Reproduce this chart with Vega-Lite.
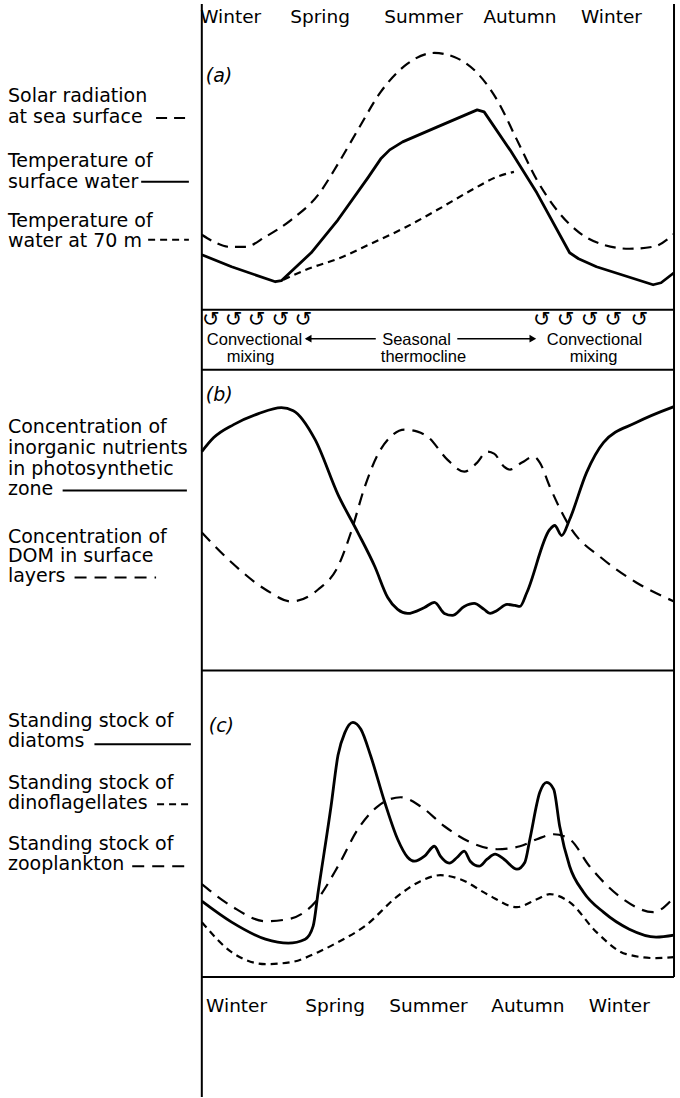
{
  "$schema": "https://vega.github.io/schema/vega-lite/v6.json",
  "width": 680,
  "height": 1098,
  "autosize": {"type": "fit", "contains": "padding"},
  "padding": 0,
  "background": "white",
  "config": {"view": {"stroke": null}},
  "datasets": {
    "curves": [
      {"series":"solar","x":203,"y":235},{"series":"solar","x":215,"y":242},{"series":"solar","x":230,"y":247},{"series":"solar","x":247,"y":247},{"series":"solar","x":267,"y":237},{"series":"solar","x":293,"y":220},{"series":"solar","x":320,"y":195},{"series":"solar","x":340,"y":164},{"series":"solar","x":360,"y":130},{"series":"solar","x":383,"y":92},{"series":"solar","x":407,"y":66},{"series":"solar","x":437,"y":53},{"series":"solar","x":457,"y":57},{"series":"solar","x":480,"y":73},{"series":"solar","x":500,"y":100},{"series":"solar","x":520,"y":140},{"series":"solar","x":540,"y":180},{"series":"solar","x":560,"y":210},{"series":"solar","x":583,"y":233},{"series":"solar","x":607,"y":245},{"series":"solar","x":633,"y":249},{"series":"solar","x":657,"y":247},{"series":"solar","x":678,"y":234},
      {"series":"surftemp","x":203,"y":255},{"series":"surftemp","x":233,"y":267},{"series":"surftemp","x":277,"y":282},{"series":"surftemp","x":283,"y":281},{"series":"surftemp","x":313,"y":253},{"series":"surftemp","x":340,"y":220},{"series":"surftemp","x":370,"y":178},{"series":"surftemp","x":383,"y":159},{"series":"surftemp","x":392,"y":150},{"series":"surftemp","x":405,"y":142},{"series":"surftemp","x":440,"y":127},{"series":"surftemp","x":480,"y":110},{"series":"surftemp","x":487,"y":112},{"series":"surftemp","x":513,"y":150},{"series":"surftemp","x":540,"y":193},{"series":"surftemp","x":573,"y":253},{"series":"surftemp","x":582,"y":259},{"series":"surftemp","x":600,"y":267},{"series":"surftemp","x":657,"y":285},{"series":"surftemp","x":665,"y":283},{"series":"surftemp","x":678,"y":273},
      {"series":"temp70","x":285,"y":280},{"series":"temp70","x":313,"y":268},{"series":"temp70","x":340,"y":259},{"series":"temp70","x":373,"y":244},{"series":"temp70","x":407,"y":228},{"series":"temp70","x":440,"y":210},{"series":"temp70","x":473,"y":191},{"series":"temp70","x":500,"y":177},{"series":"temp70","x":517,"y":172},
      {"series":"nutrients","x":203,"y":452},{"series":"nutrients","x":215,"y":438},{"series":"nutrients","x":235,"y":425},{"series":"nutrients","x":260,"y":414},{"series":"nutrients","x":283,"y":408},{"series":"nutrients","x":295,"y":411},{"series":"nutrients","x":317,"y":440},{"series":"nutrients","x":340,"y":495},{"series":"nutrients","x":360,"y":533},{"series":"nutrients","x":377,"y":567},{"series":"nutrients","x":390,"y":598},{"series":"nutrients","x":400,"y":610},{"series":"nutrients","x":410,"y":614},{"series":"nutrients","x":427,"y":608},{"series":"nutrients","x":437,"y":603},{"series":"nutrients","x":447,"y":614},{"series":"nutrients","x":455,"y":616},{"series":"nutrients","x":467,"y":607},{"series":"nutrients","x":477,"y":604},{"series":"nutrients","x":487,"y":610},{"series":"nutrients","x":493,"y":614},{"series":"nutrients","x":500,"y":611},{"series":"nutrients","x":510,"y":605},{"series":"nutrients","x":518,"y":606},{"series":"nutrients","x":523,"y":607},{"series":"nutrients","x":530,"y":593},{"series":"nutrients","x":553,"y":530},{"series":"nutrients","x":558,"y":526},{"series":"nutrients","x":565,"y":536},{"series":"nutrients","x":573,"y":520},{"series":"nutrients","x":590,"y":473},{"series":"nutrients","x":607,"y":443},{"series":"nutrients","x":640,"y":423},{"series":"nutrients","x":678,"y":407},
      {"series":"dom","x":203,"y":533},{"series":"dom","x":233,"y":563},{"series":"dom","x":267,"y":590},{"series":"dom","x":293,"y":602},{"series":"dom","x":320,"y":590},{"series":"dom","x":340,"y":567},{"series":"dom","x":353,"y":533},{"series":"dom","x":367,"y":487},{"series":"dom","x":380,"y":455},{"series":"dom","x":393,"y":437},{"series":"dom","x":407,"y":430},{"series":"dom","x":420,"y":432},{"series":"dom","x":430,"y":437},{"series":"dom","x":450,"y":460},{"series":"dom","x":467,"y":472},{"series":"dom","x":480,"y":463},{"series":"dom","x":490,"y":452},{"series":"dom","x":497,"y":454},{"series":"dom","x":507,"y":467},{"series":"dom","x":513,"y":470},{"series":"dom","x":525,"y":463},{"series":"dom","x":537,"y":457},{"series":"dom","x":543,"y":463},{"series":"dom","x":553,"y":487},{"series":"dom","x":573,"y":527},{"series":"dom","x":607,"y":560},{"series":"dom","x":640,"y":583},{"series":"dom","x":678,"y":602},
      {"series":"diatoms","x":203,"y":902},{"series":"diatoms","x":233,"y":923},{"series":"diatoms","x":267,"y":940},{"series":"diatoms","x":290,"y":944},{"series":"diatoms","x":307,"y":940},{"series":"diatoms","x":315,"y":927},{"series":"diatoms","x":320,"y":893},{"series":"diatoms","x":333,"y":807},{"series":"diatoms","x":340,"y":756},{"series":"diatoms","x":347,"y":733},{"series":"diatoms","x":355,"y":723},{"series":"diatoms","x":363,"y":730},{"series":"diatoms","x":373,"y":757},{"series":"diatoms","x":387,"y":803},{"series":"diatoms","x":400,"y":840},{"series":"diatoms","x":410,"y":858},{"series":"diatoms","x":417,"y":862},{"series":"diatoms","x":427,"y":857},{"series":"diatoms","x":437,"y":847},{"series":"diatoms","x":443,"y":857},{"series":"diatoms","x":452,"y":864},{"series":"diatoms","x":460,"y":858},{"series":"diatoms","x":467,"y":852},{"series":"diatoms","x":473,"y":862},{"series":"diatoms","x":482,"y":867},{"series":"diatoms","x":490,"y":860},{"series":"diatoms","x":498,"y":855},{"series":"diatoms","x":507,"y":860},{"series":"diatoms","x":520,"y":870},{"series":"diatoms","x":528,"y":863},{"series":"diatoms","x":533,"y":840},{"series":"diatoms","x":543,"y":793},{"series":"diatoms","x":550,"y":783},{"series":"diatoms","x":557,"y":790},{"series":"diatoms","x":563,"y":827},{"series":"diatoms","x":573,"y":867},{"series":"diatoms","x":587,"y":893},{"series":"diatoms","x":607,"y":913},{"series":"diatoms","x":633,"y":930},{"series":"diatoms","x":660,"y":938},{"series":"diatoms","x":678,"y":936},
      {"series":"zoo","x":203,"y":885},{"series":"zoo","x":233,"y":907},{"series":"zoo","x":267,"y":922},{"series":"zoo","x":290,"y":920},{"series":"zoo","x":317,"y":903},{"series":"zoo","x":340,"y":867},{"series":"zoo","x":360,"y":830},{"series":"zoo","x":380,"y":807},{"series":"zoo","x":403,"y":798},{"series":"zoo","x":423,"y":807},{"series":"zoo","x":447,"y":827},{"series":"zoo","x":473,"y":843},{"series":"zoo","x":500,"y":850},{"series":"zoo","x":523,"y":847},{"series":"zoo","x":540,"y":840},{"series":"zoo","x":557,"y":835},{"series":"zoo","x":573,"y":840},{"series":"zoo","x":593,"y":867},{"series":"zoo","x":627,"y":900},{"series":"zoo","x":657,"y":913},{"series":"zoo","x":678,"y":898},
      {"series":"dino","x":203,"y":923},{"series":"dino","x":233,"y":953},{"series":"dino","x":267,"y":965},{"series":"dino","x":293,"y":963},{"series":"dino","x":320,"y":953},{"series":"dino","x":340,"y":943},{"series":"dino","x":367,"y":927},{"series":"dino","x":400,"y":897},{"series":"dino","x":423,"y":882},{"series":"dino","x":443,"y":876},{"series":"dino","x":463,"y":880},{"series":"dino","x":490,"y":895},{"series":"dino","x":520,"y":908},{"series":"dino","x":540,"y":900},{"series":"dino","x":553,"y":895},{"series":"dino","x":573,"y":903},{"series":"dino","x":600,"y":933},{"series":"dino","x":630,"y":955},{"series":"dino","x":660,"y":959},{"series":"dino","x":678,"y":958}
    ]
  },
  "encoding": {
    "x": {"field": "x", "type": "quantitative", "scale": {"domain": [0, 680], "nice": false, "zero": false}, "axis": null},
    "y": {"field": "y", "type": "quantitative", "scale": {"domain": [0, 1098], "nice": false, "zero": false, "reverse": true}, "axis": null}
  },
  "layer": [
    {
      "data": {"values": [
        {"x":203,"x2":203,"y":4,"y2":1098},
        {"x":678,"x2":678,"y":4,"y2":978},
        {"x":203,"x2":678,"y":310,"y2":310},
        {"x":203,"x2":678,"y":370,"y2":370},
        {"x":203,"x2":678,"y":671,"y2":671},
        {"x":203,"x2":678,"y":978,"y2":978}
      ]},
      "mark": {"type": "rule", "color": "black", "strokeWidth": 2},
      "encoding": {"x2": {"field": "x2"}, "y2": {"field": "y2"}}
    },
    {
      "data": {"name": "curves"},
      "transform": [{"filter": {"field": "series", "oneOf": ["solar","temp70","dom","zoo","dino"]}}],
      "mark": {"type": "line", "interpolate": "monotone", "color": "black", "strokeWidth": 2.2},
      "encoding": {
        "detail": {"field": "series"},
        "strokeDash": {"field": "series", "type": "nominal", "legend": null,
          "scale": {"domain": ["solar","surftemp","temp70","nutrients","dom","diatoms","zoo","dino"],
                    "range": [[11,7],[1,0],[7,5],[1,0],[12,8],[1,0],[12,8],[7,5]]}}
      }
    },
    {
      "data": {"name": "curves"},
      "transform": [{"filter": {"field": "series", "oneOf": ["nutrients","diatoms"]}}],
      "mark": {"type": "line", "interpolate": "monotone", "color": "black", "strokeWidth": 2.8},
      "encoding": {"detail": {"field": "series"}}
    },
    {
      "data": {"name": "curves"},
      "transform": [{"filter": {"field": "series", "equal": "surftemp"}}],
      "mark": {"type": "line", "interpolate": "linear", "color": "black", "strokeWidth": 2.8, "strokeJoin": "round"},
      "encoding": {"detail": {"field": "series"}}
    },
    {
      "data": {"values": [
        {"series":"solar","x":157,"x2":188,"y":118},
        {"series":"surftemp","x":142,"x2":190,"y":182},
        {"series":"temp70","x":149,"x2":190,"y":240},
        {"series":"nutrients","x":63,"x2":188,"y":491},
        {"series":"dom","x":75,"x2":157,"y":578},
        {"series":"diatoms","x":95,"x2":192,"y":745},
        {"series":"dino","x":158,"x2":193,"y":805},
        {"series":"zoo","x":133,"x2":193,"y":867}
      ]},
      "mark": {"type": "rule", "color": "black", "strokeWidth": 2},
      "encoding": {
        "x2": {"field": "x2"},
        "strokeDash": {"field": "series", "type": "nominal", "legend": null}
      }
    },
    {
      "data": {"values": [
        {"x":308,"x2":378,"y":339},
        {"x":460,"x2":534,"y":339}
      ]},
      "mark": {"type": "rule", "color": "black", "strokeWidth": 1.5},
      "encoding": {"x2": {"field": "x2"}}
    },
    {
      "data": {"values": [
        {"x":310,"y":339,"dir":"left"},
        {"x":536,"y":339,"dir":"right"}
      ]},
      "mark": {"type": "point", "filled": true, "color": "black", "size": 60, "opacity": 1},
      "encoding": {
        "shape": {"field": "dir", "type": "nominal", "legend": null,
          "scale": {"domain": ["left","right"], "range": ["triangle-left","triangle-right"]}}
      }
    },
    {
      "data": {"values": [
        {"x":212,"y":320},{"x":235,"y":320},{"x":258,"y":320},{"x":282,"y":320},{"x":305,"y":320},
        {"x":545,"y":320},{"x":569,"y":320},{"x":593,"y":320},{"x":617,"y":320},{"x":643,"y":320}
      ]},
      "mark": {"type": "text", "text": "↺", "font": "DejaVu Sans", "fontSize": 21, "baseline": "middle", "align": "center", "color": "black"}
    },
    {
      "data": {"values": [
        {"text":"Solar radiation","x":8,"y":102},
        {"text":"at sea surface","x":8,"y":123},
        {"text":"Temperature of","x":8,"y":167},
        {"text":"surface water","x":8,"y":188},
        {"text":"Temperature of","x":8,"y":227},
        {"text":"water at 70 m","x":8,"y":247},
        {"text":"Concentration of","x":8,"y":433},
        {"text":"inorganic nutrients","x":8,"y":454},
        {"text":"in photosynthetic","x":8,"y":475},
        {"text":"zone","x":8,"y":495},
        {"text":"Concentration of","x":8,"y":543},
        {"text":"DOM in surface","x":8,"y":563},
        {"text":"layers","x":8,"y":583},
        {"text":"Standing stock of","x":8,"y":728},
        {"text":"diatoms","x":8,"y":748},
        {"text":"Standing stock of","x":8,"y":790},
        {"text":"dinoflagellates","x":8,"y":810},
        {"text":"Standing stock of","x":8,"y":851},
        {"text":"zooplankton","x":8,"y":871}
      ]},
      "mark": {"type": "text", "font": "DejaVu Sans", "fontSize": 19, "align": "left", "baseline": "alphabetic", "color": "black"},
      "encoding": {"text": {"field": "text"}}
    },
    {
      "data": {"values": [
        {"text":"Winter","x":232,"y":23},
        {"text":"Spring","x":322,"y":23},
        {"text":"Summer","x":426,"y":23},
        {"text":"Autumn","x":523,"y":23},
        {"text":"Winter","x":615,"y":23},
        {"text":"Winter","x":238,"y":1013},
        {"text":"Spring","x":337,"y":1013},
        {"text":"Summer","x":431,"y":1013},
        {"text":"Autumn","x":531,"y":1013},
        {"text":"Winter","x":623,"y":1013}
      ]},
      "mark": {"type": "text", "font": "DejaVu Sans", "fontSize": 18.5, "align": "center", "baseline": "alphabetic", "color": "black"},
      "encoding": {"text": {"field": "text"}}
    },
    {
      "data": {"values": [
        {"text":"(a)","x":207,"y":82},
        {"text":"(b)","x":207,"y":401},
        {"text":"(c)","x":210,"y":733}
      ]},
      "mark": {"type": "text", "font": "DejaVu Sans", "fontSize": 19, "fontStyle": "italic", "align": "left", "baseline": "alphabetic", "color": "black"},
      "encoding": {"text": {"field": "text"}}
    },
    {
      "data": {"values": [
        {"text":"Convectional","x":256,"y":345},
        {"text":"mixing","x":252,"y":362},
        {"text":"Seasonal","x":419,"y":345},
        {"text":"thermocline","x":426,"y":362},
        {"text":"Convectional","x":598,"y":345},
        {"text":"mixing","x":597,"y":362}
      ]},
      "mark": {"type": "text", "font": "Liberation Sans", "fontSize": 16.5, "align": "center", "baseline": "alphabetic", "color": "black"},
      "encoding": {"text": {"field": "text"}}
    }
  ]
}
